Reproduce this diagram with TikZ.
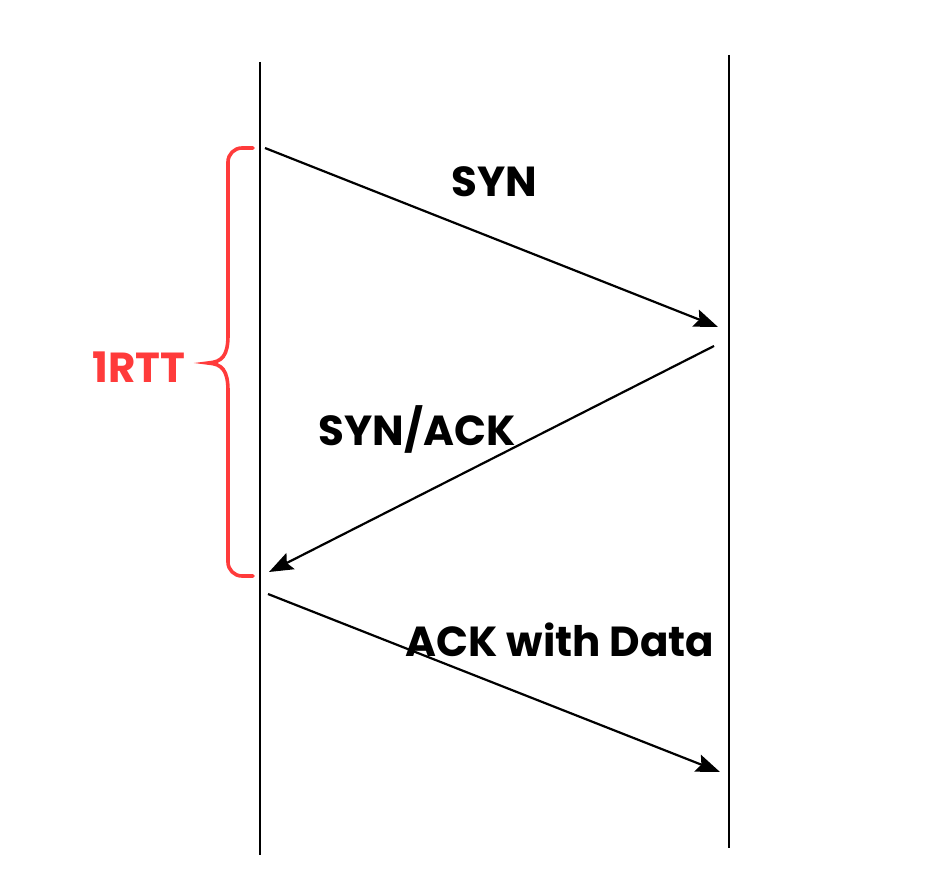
\documentclass[tikz,border=0pt]{standalone}
\usepackage{fontspec}
\setmainfont{Poppins}
\usetikzlibrary{arrows.meta}
\begin{document}
\begin{tikzpicture}[x=1pt,y=-1pt,
  lifeline/.style={line width=2.4pt,black},
  msg/.style={line width=2.2pt,black,-{Stealth[length=24pt,width=18pt,inset=4pt]}},
  lbl/.style={font=\fontsize{42}{48}\selectfont\bfseries,black,inner sep=0pt},
  bracestyle/.style={line width=3.6pt,draw=rttred,line cap=round},
]
\definecolor{rttred}{HTML}{FF3B3B}
\useasboundingbox (0,0) rectangle (946,883);
% lifelines
\coordinate (Ltop) at (260,62);
\coordinate (Lbot) at (260,855);
\coordinate (Rtop) at (729,55);
\coordinate (Rbot) at (729,848);
\draw[lifeline] (Ltop) -- (Lbot);
\draw[lifeline] (Rtop) -- (Rbot);
% message endpoints
\coordinate (s1) at (265,148);
\coordinate (e1) at (718,327);
\coordinate (s2) at (714,346);
\coordinate (e2) at (269,572);
\coordinate (s3) at (268,594);
\coordinate (e3) at (720,772);
\draw[msg] (s1) -- (e1);
\draw[msg] (s2) -- (e2);
\draw[msg] (s3) -- (e3);
% labels
\node[lbl] (syn) at (494,182) {SYN};
\node[lbl] (synack) at (417,429) {SYN/ACK};
\node[lbl] (ackdata) at (560,640) {ACK with Data};
% brace
\coordinate (btop) at (253,148);
\coordinate (bbot) at (253,576);
\coordinate (btip) at (208,363);
\draw[bracestyle,rounded corners=14pt] (btop) -- (228,148) -- (228,335);
\draw[bracestyle] (228,335) .. controls (228,356) and (222,362) .. (btip)
  .. controls (222,364) and (228,370) .. (228,391);
\draw[bracestyle,rounded corners=14pt] (228,391) -- (228,576) -- (bbot);
\node[lbl,text=rttred] (rtt) at (139,367) {1RTT};
\end{tikzpicture}
\end{document}
